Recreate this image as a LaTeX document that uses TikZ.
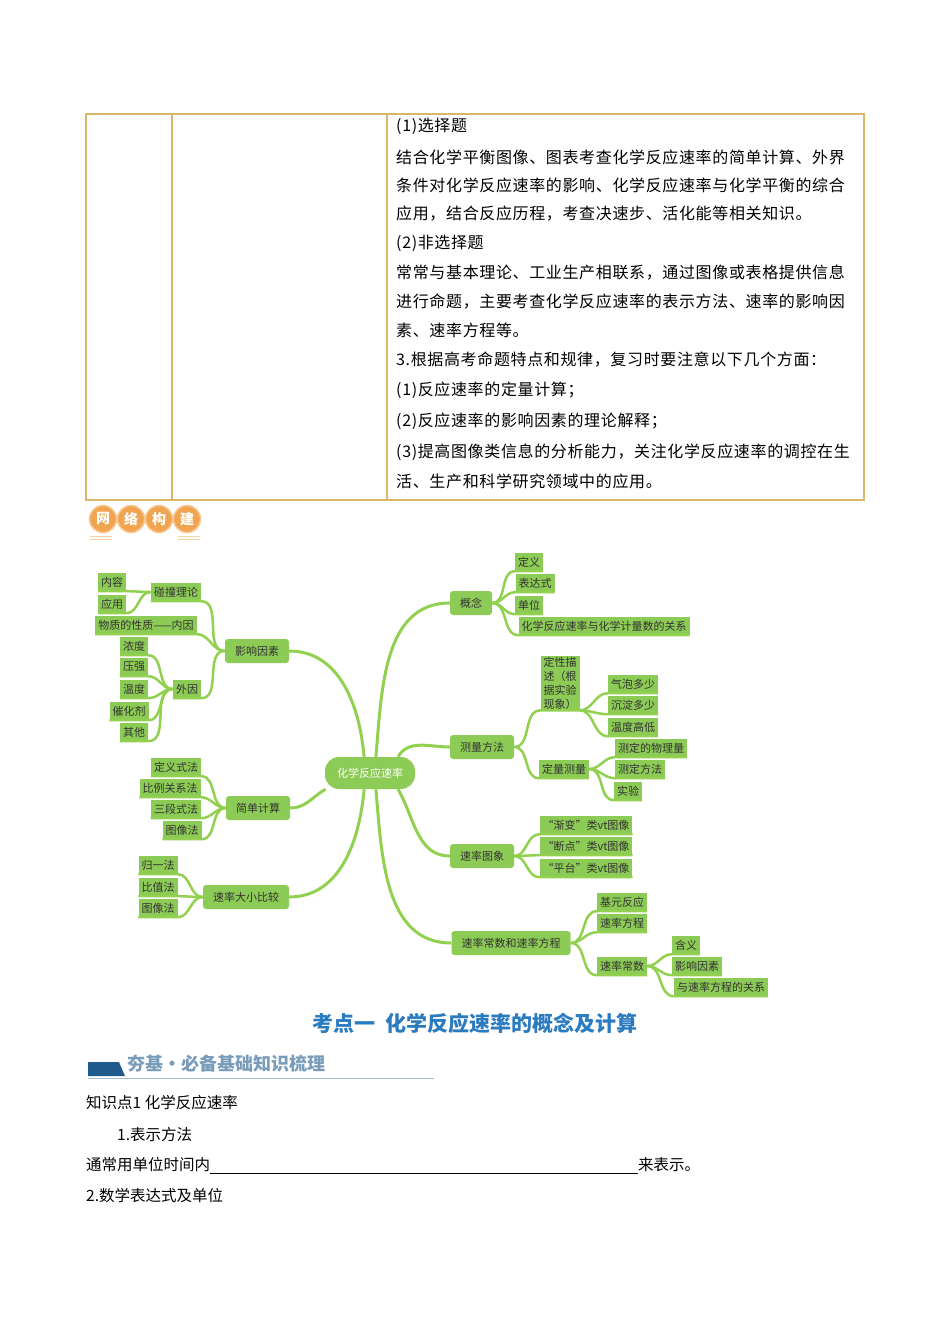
\documentclass[tikz,border=0pt]{standalone}
\usepackage{fontspec}
\setmainfont{Noto Sans CJK SC}
\definecolor{mapgreen}{HTML}{92D050}
\definecolor{boxgreen}{HTML}{8CCB55}
\definecolor{tabline}{HTML}{D8B868}
\definecolor{titleblue}{HTML}{2A7BC0}
\definecolor{darkblue}{HTML}{1F5A8C}
\definecolor{badge}{HTML}{F2A550}
\tikzset{
  hub/.style={rounded corners=14pt,fill=boxgreen,text=white,minimum height=32pt,inner xsep=12pt,font=\fontsize{11}{12}\selectfont},
  topic/.style={rounded corners=3pt,fill=boxgreen,text=black!80,minimum height=24pt,inner xsep=10pt,font=\fontsize{11}{12}\selectfont},
  leaf/.style={fill=boxgreen,text=black!80,minimum height=18pt,inner xsep=3pt,inner ysep=1pt,font=\fontsize{11}{12}\selectfont},
  branch/.style={draw=mapgreen,line width=2.5pt},
  body/.style={anchor=west,inner sep=0pt,font=\fontsize{15.5}{16}\selectfont},
}
\begin{document}
\begin{tikzpicture}[x=1pt,y=-1pt]
\useasboundingbox (0,0) rectangle (950,1344);
% table
\draw[tabline,line width=1.2pt] (86,114) rectangle (864,500);
\draw[tabline,line width=1.2pt] (172,114) -- (172,500) (387,114) -- (387,500);
\foreach \y/\txt in {126/(1)选择题,
  157/结合化学平衡图像、图表考查化学反应速率的简单计算、外界,
  185/条件对化学反应速率的影响、化学反应速率与化学平衡的综合,
  214/应用，结合反应历程，考查决速步、活化能等相关知识。,
  243/(2)非选择题,
  273/常常与基本理论、工业生产相联系，通过图像或表格提供信息,
  302/进行命题，主要考查化学反应速率的表示方法、速率的影响因,
  330/素、速率方程等。,
  360/3.根据高考命题特点和规律，复习时要注意以下几个方面：,
  390/(1)反应速率的定量计算；,
  421/(2)反应速率的影响因素的理论解释；,
  452/(3)提高图像类信息的分析能力，关注化学反应速率的调控在生,
  481/活、生产和科学研究领域中的应用。}{
  \node[body,font=\fontsize{16}{16}\selectfont\addfontfeature{LetterSpace=4}] at (396,\y) {\txt};
}
% badge
\foreach \x/\ch in {103/网,131/络,159/构,187/建}{
  \node[circle,fill=badge,draw=badge!60,line width=1.5pt,minimum size=27pt,inner sep=0pt,text=white,font=\bfseries\fontsize{14}{14}\selectfont] (b\ch) at (\x,519) {\ch};
}
\draw[badge!50,line width=1pt] (90,536) -- (112,536) (90,539) -- (112,539) (178,536) -- (200,536) (178,539) -- (200,539);
% mind map
\node[hub] (hub) at (370,773) {化学反应速率};
\foreach \pos/\name/\txt in {{(257,651)/yx/影响因素}, {(258,808)/jd/简单计算}, {(246,897)/bj/速率大小比较},
    {(471,603)/gn/概念}, {(482,747)/cl/测量方法}, {(482,856)/tx/速率图象}, {(511,943)/fc/速率常数和速率方程}}{
  \node[topic] (\name) at \pos {\txt};
}
\foreach \pos/\name/\txt in {{(176,592)/pz/碰撞理论}, {(112,582)/nr/内容}, {(112,604)/yy/应用},
    {(146,625)/nyin/物质的性质——内因}, {(187,689)/wy/外因},
    {(134,646)/nd/浓度}, {(134,667)/yq/压强}, {(134,689)/wd/温度}, {(129,711)/chj/催化剂}, {(134,732)/qt/其他},
    {(176,767)/ls1/定义式法}, {(170,788)/ls2/比例关系法}, {(176,809)/ls3/三段式法}, {(182,830)/ls4/图像法},
    {(158,865)/lb1/归一法}, {(158,887)/lb2/比值法}, {(158,908)/lb3/图像法},
    {(529,562)/dy/定义}, {(535,583)/bds/表达式}, {(529,605)/dw/单位}, {(604,626)/gx/化学反应速率与化学计量数的关系},
    {(633,684)/qp/气泡多少}, {(633,705)/cd/沉淀多少}, {(633,727)/wdg/温度高低},
    {(564,769)/dl/定量测量}, {(651,748)/wl/测定的物理量}, {(640,769)/ff/测定方法}, {(628,791)/sy/实验},
    {(586,825)/t1/“渐变”类vt图像}, {(586,846)/t2/“断点”类vt图像}, {(586,868)/t3/“平台”类vt图像},
    {(622,902)/jy/基元反应}, {(622,923)/fcn/速率方程}, {(622,966)/cs/速率常数},
    {(686,945)/hy/含义}, {(697,966)/ys/影响因素}, {(721,987)/gx2/与速率方程的关系}}{
  \node[leaf] (\name) at \pos {\txt};
}
\node[leaf,align=left,font=\fontsize{11}{14}\selectfont] (dx) at (560,683) {定性描\\述（根\\据实验\\现象）};
% hub to topics
\draw[branch,line width=3pt] (hub.70) to[out=85,in=180] (gn.west);
\draw[branch,line width=3pt] (hub.30) to[out=60,in=180] (cl.west);
\draw[branch,line width=3pt] (hub.-30) to[out=-60,in=180] (tx.west);
\draw[branch,line width=3pt] (hub.-70) to[out=-85,in=180] (fc.west);
\draw[branch,line width=3pt] (hub.110) to[out=95,in=0] (yx.east);
\draw[branch,line width=3pt] (hub.-160) to[out=-150,in=0] (jd.east);
\draw[branch,line width=3pt] (hub.-110) to[out=-95,in=0] (bj.east);
% right branches
\foreach \p/\c in {gn/dy, gn/bds, gn/dw, gn/gx, cl/dl, dl/wl, dl/ff, dl/sy,
                   tx/t1, tx/t2, tx/t3, fc/jy, fc/fcn, fc/cs, cs/hy, cs/ys, cs/gx2}{
  \draw[branch] (\p.east) to[out=0,in=180] (\c.south west) -- (\c.south east);
}
\draw[branch] (cl.east) to[out=0,in=180] (dx.south west) -- (dx.south east);
\foreach \c in {qp, cd, wdg}{
  \draw[branch] (dx.south east) to[out=0,in=180] (\c.south west) -- (\c.south east);
}
% left branches
\foreach \p/\c in {yx/pz, yx/nyin, yx/wy, pz/nr, pz/yy, wy/nd, wy/yq, wy/wd, wy/chj, wy/qt,
                   jd/ls1, jd/ls2, jd/ls3, jd/ls4, bj/lb1, bj/lb2, bj/lb3}{
  \draw[branch] (\p.west) to[out=180,in=0] (\c.south east) -- (\c.south west);
}
% headings and text
\node[text=titleblue,font=\bfseries\fontsize{21}{21}\selectfont] (kd) at (475,1023) {考点一\ \ 化学反应速率的概念及计算};
\fill[darkblue] (88,1062) -- (119,1062) -- (125,1076) -- (88,1076) -- cycle;
\node[anchor=west,inner sep=0pt,text=darkblue!60,font=\bfseries\fontsize{18}{18}\selectfont] (hj) at (127,1064) {夯基·必备基础知识梳理};
\draw[darkblue!40,line width=0.6pt] (88,1078) -- (434,1078);
\node[body] (zs) at (86,1103) {知识点1 化学反应速率};
\node[body] (bs) at (117,1135) {1.表示方法};
\node[body] (ty) at (86,1165) {通常用单位时间内};
\coordinate (ue) at (638,1173);
\draw[line width=0.6pt] (ty.east |- ue) -- (ue);
\node[body] at (638,1165) {来表示。};
\node[body] (sx) at (86,1196) {2.数学表达式及单位};
\end{tikzpicture}
\end{document}
